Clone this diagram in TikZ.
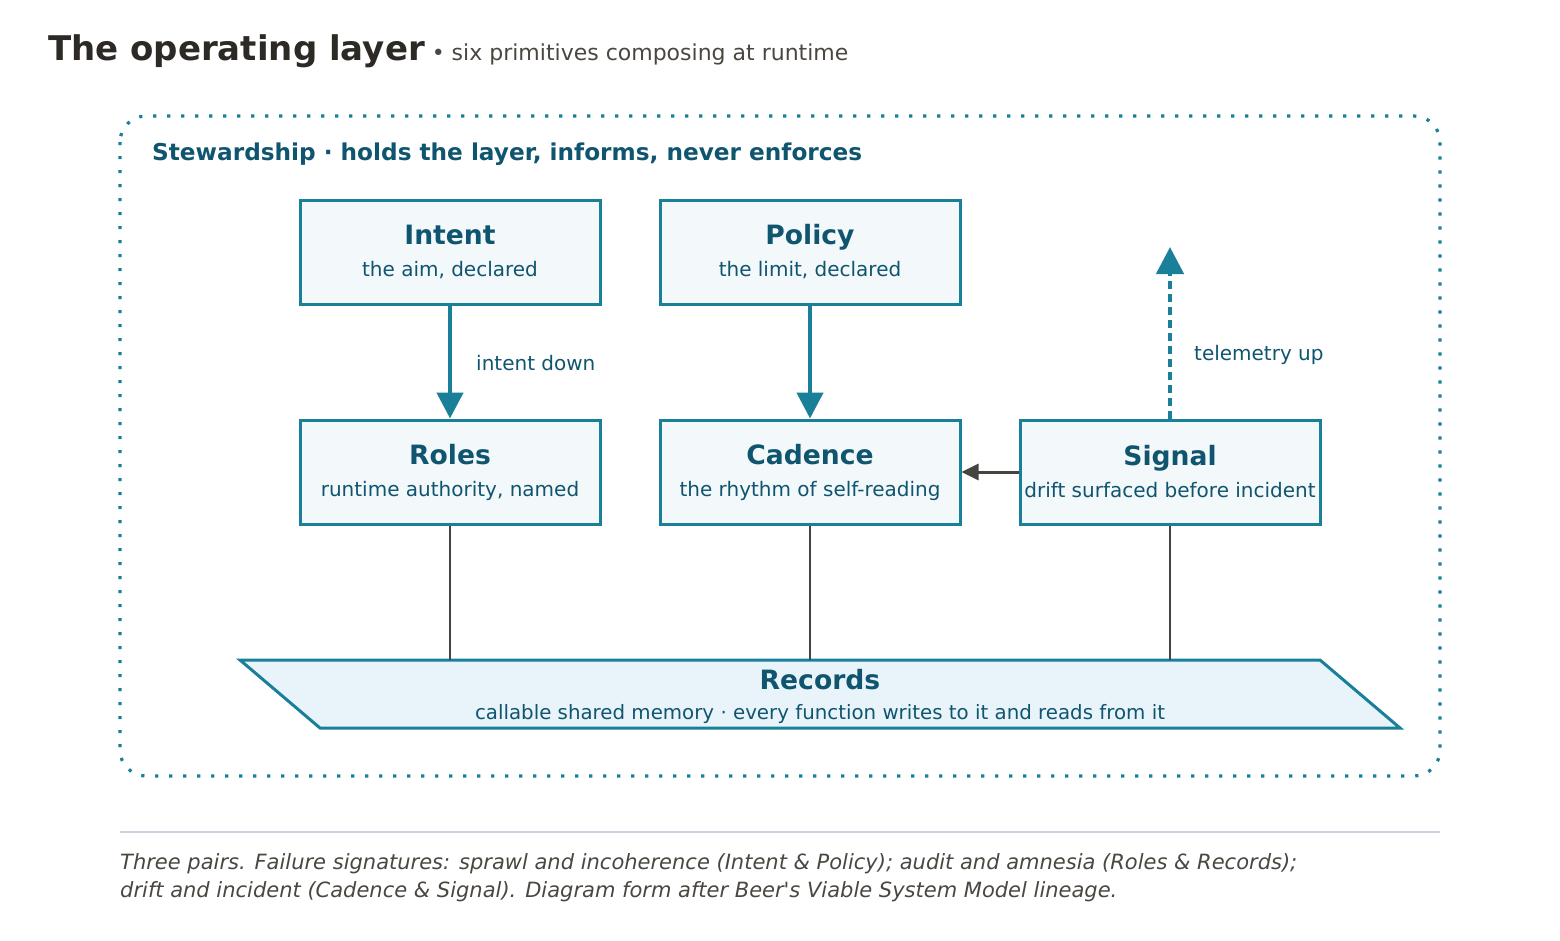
\documentclass[tikz,border=0pt]{standalone}
\usepackage{fontspec}
\setmainfont{DejaVu Sans}
\usetikzlibrary{arrows.meta}
\definecolor{teal}{HTML}{1A7F98}
\definecolor{ink}{HTML}{10556F}
\definecolor{boxfill}{HTML}{F3F8FB}
\definecolor{recfill}{HTML}{E8F4FA}
\definecolor{greyline}{HTML}{45443E}
\definecolor{titlec}{HTML}{2D2A26}
\definecolor{subc}{HTML}{4A4640}
\definecolor{rule}{HTML}{C9D4DF}
\newcommand\bxttl[1]{{\fontsize{26.6}{32}\selectfont\bfseries #1}}
\newcommand\bxsub[1]{{\fontsize{20}{32}\selectfont #1\rule[-2pt]{0pt}{2pt}}}
\tikzset{
  prim/.style={draw=teal, line width=3pt, fill=boxfill, minimum width=300pt, minimum height=104pt,
    inner sep=0pt, align=center, text=ink, font=\fontsize{20}{32}\selectfont},
  flow/.style={draw=teal, line width=4.5pt, -{Triangle[width=26pt,length=26pt]}},
  tele/.style={draw=teal, line width=4.5pt, dash pattern=on 8pt off 5pt, -{Triangle[width=27pt,length=27pt]}},
  feed/.style={draw=greyline, line width=3pt, -{Triangle[width=16pt,length=17pt]}},
  link/.style={draw=greyline, line width=2.8pt},
  elabel/.style={text=ink, font=\fontsize{20}{24}\selectfont, anchor=base west, inner sep=0pt},
}
\begin{document}
\begin{tikzpicture}[x=1pt,y=-1pt]
\useasboundingbox (0,0) rectangle (1560,940);
% header
\node[anchor=base west, inner sep=0pt, text=titlec] (title) at (48,60)
  {{\fontsize{34}{40}\selectfont\bfseries The operating layer}{\fontsize{22}{26}\selectfont\color{subc}\hspace{7pt}•\ six primitives composing at runtime}};
% stewardship frame
\draw[teal, line width=3.2pt, dash pattern=on 3.2pt off 10.8pt, rounded corners=26pt] (120,116) rectangle (1440,776);
\node[anchor=base west, inner sep=0pt, text=ink, font=\fontsize{23.2}{28}\selectfont\bfseries] (stew) at (152,160)
  {Stewardship · holds the layer, informs, never enforces};
% primitives
\node[prim] (intent) at (450,252) {\bxttl{Intent}\\\bxsub{the aim, declared}};
\node[prim] (policy) at (810,252) {\bxttl{Policy}\\\bxsub{the limit, declared}};
\node[prim] (roles) at (450,472) {\bxttl{Roles}\\\bxsub{runtime authority, named}};
\node[prim] (cadence) at (810,472) {\bxttl{Cadence}\\\bxsub{the rhythm of self-reading}};
\node[prim] (signal) at (1170,472) {\bxttl{Signal}\\\bxsub{drift surfaced before incident}};
% records
\coordinate (r1) at (240,660);
\coordinate (r2) at (1320,660);
\coordinate (r3) at (1400,728);
\coordinate (r4) at (320,728);
\draw[teal, line width=3pt, fill=recfill, line join=miter] (r1) -- (r2) -- (r3) -- (r4) -- cycle;
\node[align=center, inner sep=0pt, text=ink, font=\fontsize{19.8}{30}\selectfont] (records) at (820,696)
  {{\fontsize{26.6}{30}\selectfont\bfseries Records}\\callable shared memory · every function writes to it and reads from it};
% connectors
\coordinate (telend) at (1170,247);
\draw[flow] (intent) -- (roles.north);
\draw[flow] (policy) -- (cadence.north);
\draw[tele] (signal.north) -- (telend);
\draw[feed] (signal.west) -- (cadence.east);
\draw[link] (roles.south) -- (roles.south |- r1);
\draw[link] (cadence.south) -- (cadence.south |- r1);
\draw[link] (signal.south) -- (signal.south |- r1);
\node[elabel] (ldown) at (476,370) {intent down};
\node[elabel] (lup) at (1194,360) {telemetry up};
% footer
\coordinate (ruleA) at (120,832);
\coordinate (ruleB) at (1440,832);
\draw[rule, line width=1.5pt] (ruleA) -- (ruleB);
\node[anchor=base west, inner sep=0pt, align=left, text=subc, font=\fontsize{21}{28}\selectfont\itshape] (caption) at (120,897)
  {Three pairs. Failure signatures: sprawl and incoherence (Intent \& Policy); audit and amnesia (Roles \& Records);\\drift and incident (Cadence \& Signal). Diagram form after Beer\textquotesingle s Viable System Model lineage.};
\end{tikzpicture}
\end{document}
